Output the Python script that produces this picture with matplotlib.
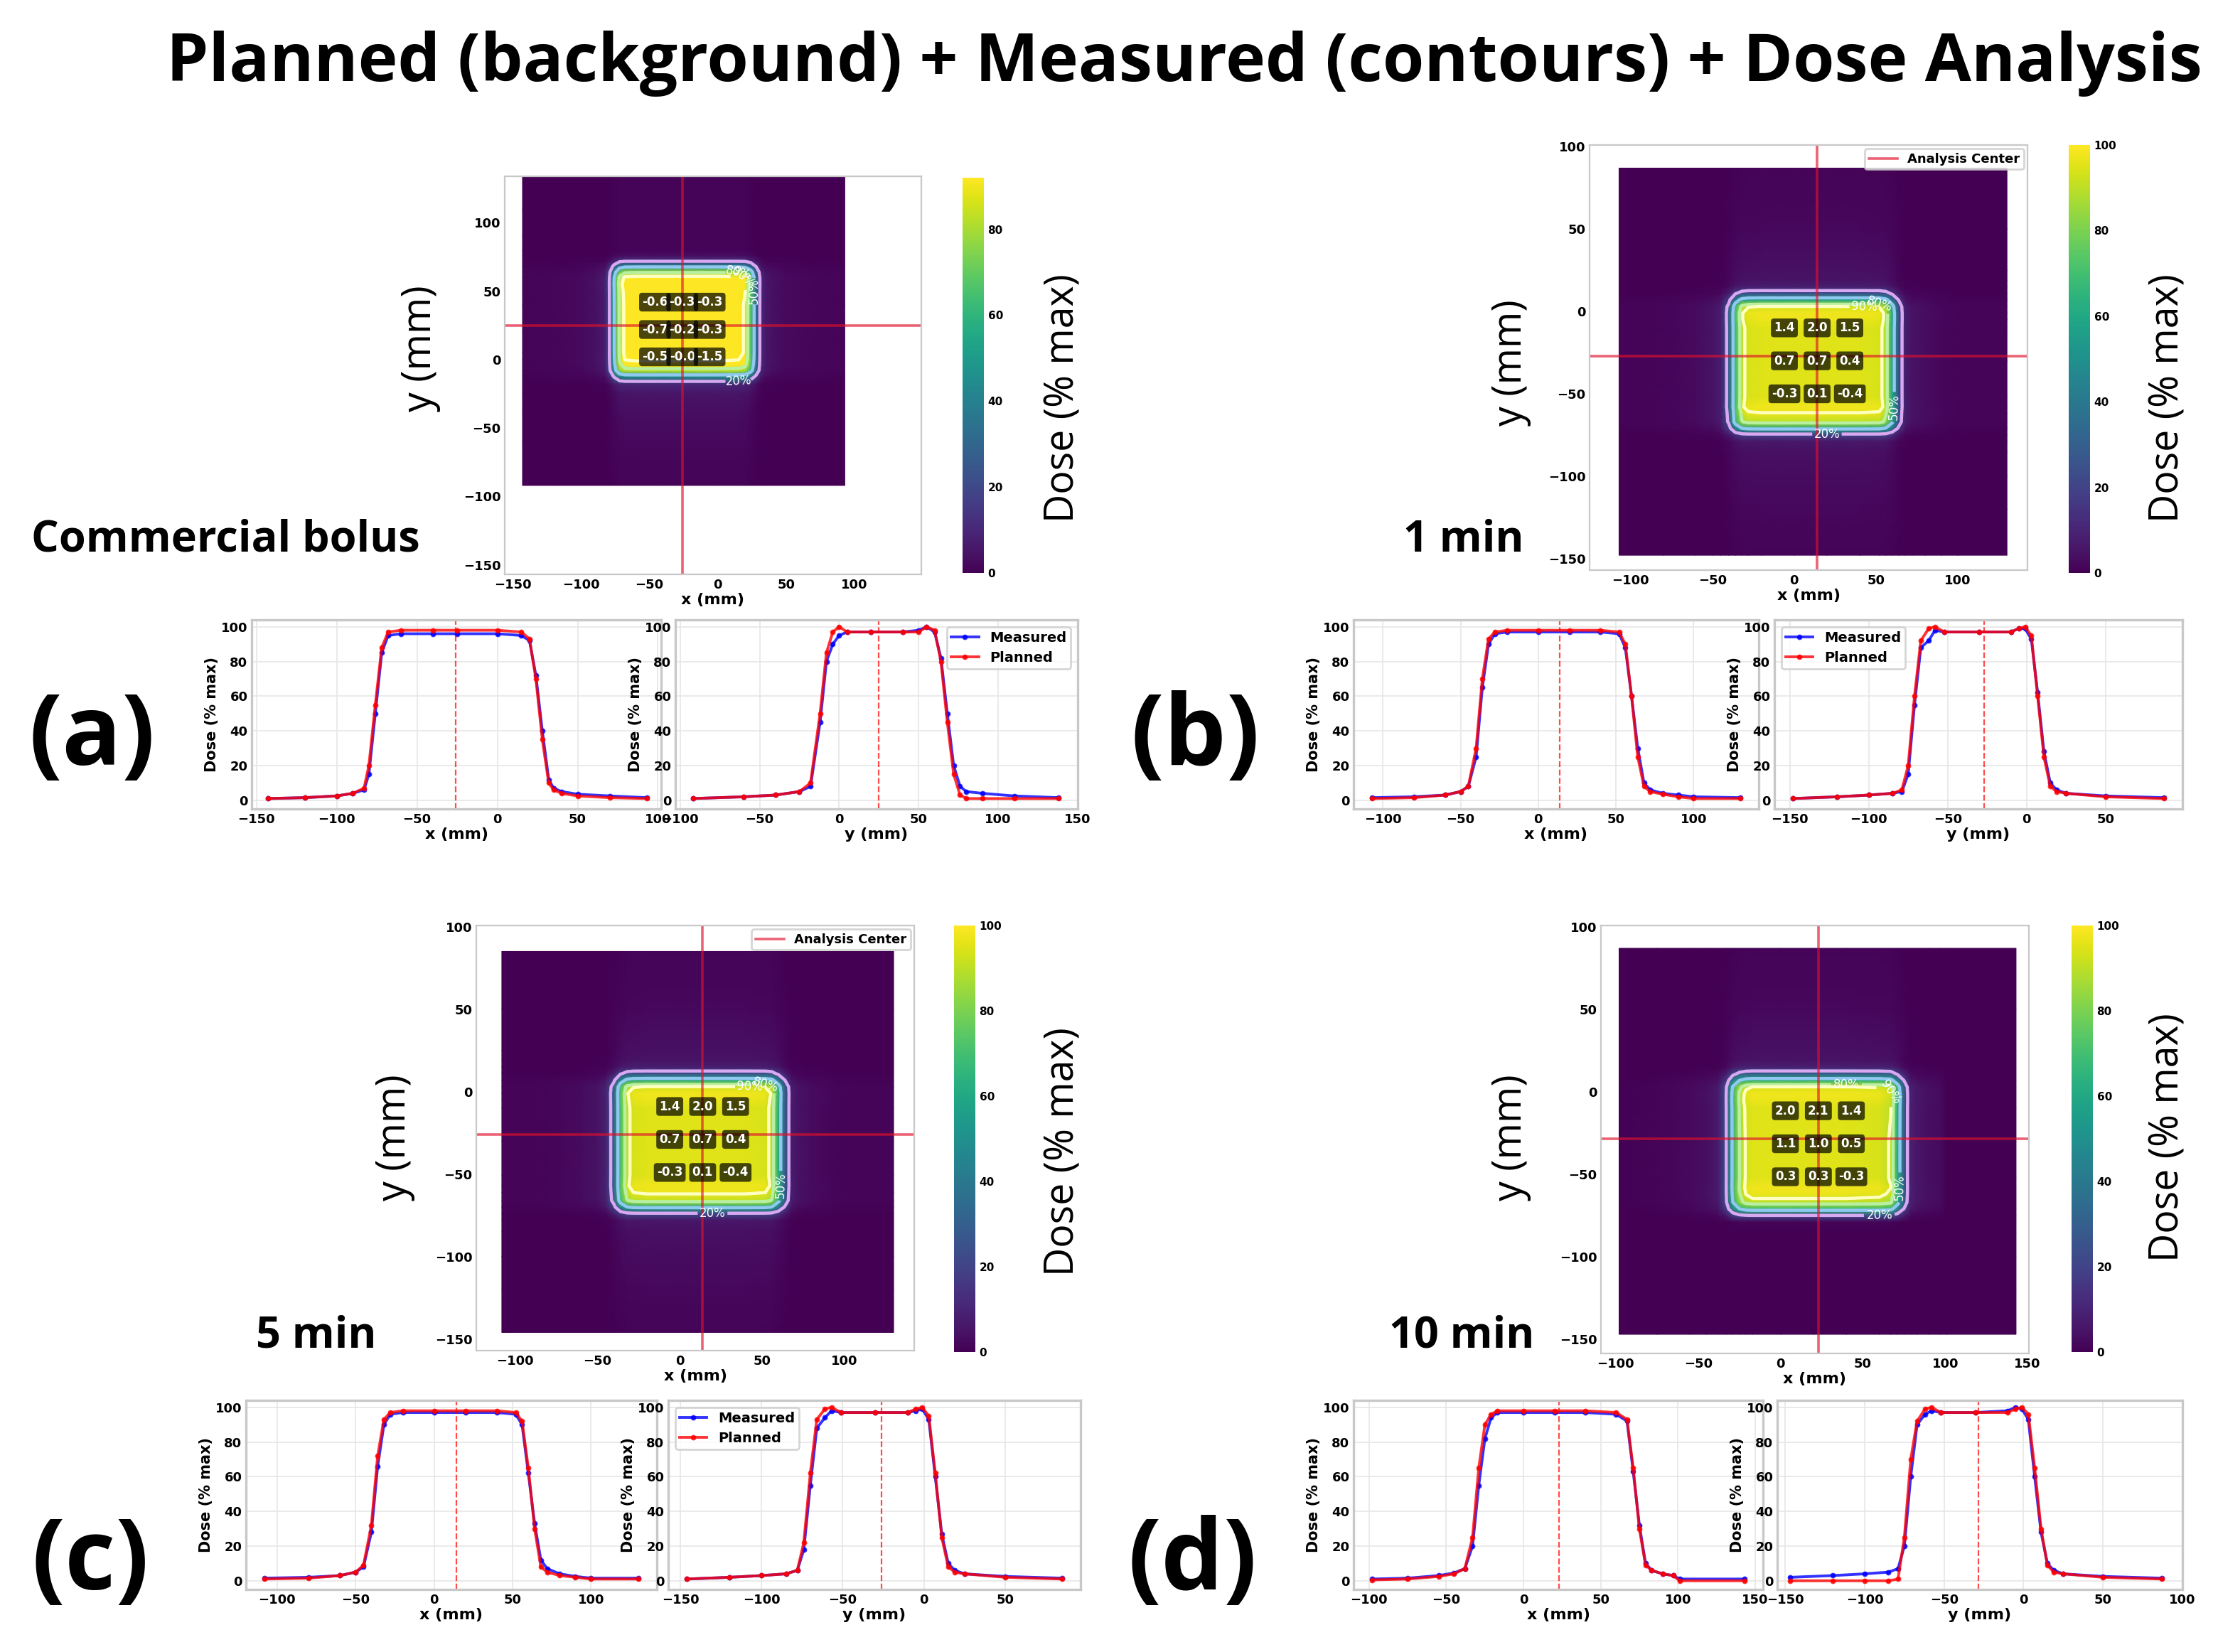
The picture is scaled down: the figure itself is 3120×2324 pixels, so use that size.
import numpy as np
import matplotlib.pyplot as plt

# ---- profile data (position in mm, dose in % max) ----
a_x_pos = [-143, -120, -100, -90, -83, -80, -76, -72, -68, -60, -40, -25, 0, 15, 20, 24, 28, 32, 35, 40, 50, 70, 93]
a_x_plan = [1, 1.5, 2.5, 4, 7, 20, 55, 88, 97, 98, 98, 98, 98, 97, 93, 70, 35, 10, 6, 4, 2.5, 1.5, 1]
a_x_meas = [1, 1.5, 2.5, 4, 6, 15, 50, 85, 95, 96, 96, 96, 96, 95, 92, 72, 40, 12, 7, 5, 3.5, 2.5, 1.5]
a_y_pos = [-92, -60, -40, -25, -18, -12, -8, -4, 0, 5, 20, 40, 50, 55, 60, 64, 68, 72, 76, 80, 90, 110, 138]
a_y_plan = [1, 2, 3, 5, 10, 50, 85, 97, 100, 97, 97, 97, 97, 100, 98, 80, 45, 15, 3, 1, 1, 1, 1]
a_y_meas = [1, 2, 3, 5, 8, 45, 80, 90, 95, 97, 97, 97, 98, 100, 97, 82, 50, 20, 8, 5, 4, 2.5, 1.5]

b_x_pos = [-107, -80, -60, -50, -45, -40, -36, -32, -28, -20, 0, 20, 40, 52, 56, 60, 64, 68, 72, 80, 90, 100, 130]
b_x_plan = [1, 1.5, 3, 5, 8, 30, 70, 93, 97, 98, 98, 98, 98, 97, 90, 60, 25, 8, 5, 3.5, 2, 1, 1]
b_x_meas = [1.5, 2, 3, 5, 8, 25, 65, 90, 96, 97, 97, 97, 97, 96, 88, 60, 30, 10, 6, 4, 3, 2, 1.5]
b_y_pos = [-148, -120, -100, -85, -79, -75, -71, -67, -62, -58, -52, -30, -10, -5, -1, 3, 7, 11, 15, 19, 25, 50, 87]
b_y_plan = [1, 2, 3, 4, 6, 20, 60, 92, 99, 100, 97, 97, 97, 99, 100, 95, 60, 25, 8, 5, 4, 2, 1]
b_y_meas = [1, 2, 3, 4, 5, 15, 55, 88, 92, 98, 97, 97, 97, 99, 99, 93, 62, 28, 10, 6, 4, 2.5, 1.5]

c_x_pos = [-108, -80, -60, -50, -45, -40, -36, -32, -28, -20, 0, 20, 40, 52, 56, 60, 64, 68, 72, 80, 90, 100, 130]
c_x_plan = [1, 1.5, 3, 5, 9, 32, 72, 93, 97, 98, 98, 98, 98, 97, 92, 65, 30, 8, 5, 3, 2, 1, 1]
c_x_meas = [1.5, 2, 3, 5, 8, 28, 66, 90, 96, 97, 97, 97, 97, 96, 90, 62, 33, 12, 7, 4, 2.5, 1.5, 1.5]
c_y_pos = [-146, -120, -100, -85, -78, -74, -70, -66, -61, -57, -51, -30, -10, -5, -1, 3, 7, 11, 15, 19, 25, 50, 85]
c_y_plan = [1, 2, 3, 4, 6, 22, 62, 93, 99, 100, 97, 97, 97, 99, 100, 95, 62, 25, 8, 5, 4, 2, 1]
c_y_meas = [1, 2, 3, 4, 6, 18, 55, 88, 94, 98, 97, 97, 97, 98, 99, 93, 60, 27, 10, 6, 4, 2.5, 1.5]

d_x_pos = [-98, -75, -55, -45, -38, -33, -29, -25, -21, -17, 0, 20, 40, 60, 67, 71, 75, 79, 83, 90, 97, 101, 143]
d_x_plan = [0.5, 1, 2.5, 4, 7, 25, 65, 90, 96, 98, 98, 98, 98, 97, 93, 65, 30, 9, 6, 4, 3, 0, 0]
d_x_meas = [1, 1.5, 3, 4.5, 7, 20, 55, 82, 94, 97, 97, 97, 97, 96, 92, 63, 32, 10, 6, 4, 3, 1, 1]
d_y_pos = [-147, -120, -100, -85, -79, -75, -71, -67, -62, -58, -52, -30, -10, -5, -1, 3, 7, 11, 15, 19, 25, 50, 87]
d_y_plan = [0, 0, 0, 0, 1, 25, 70, 92, 99, 100, 97, 97, 97, 99, 100, 96, 65, 30, 9, 5, 4, 2, 1]
d_y_meas = [2, 3, 4, 5, 7, 20, 60, 90, 96, 98, 97, 97, 98, 100, 99, 93, 60, 28, 10, 6, 4, 2.5, 1.5]

# analysis centre (x, y) in mm
a_center = (-26, 25)
b_center = (14, -27)
c_center = (14, -26)
d_center = (23, -28.5)

# 3x3 dose-difference grid, rows top to bottom
a_diff = [[-0.6, -0.3, -0.3], [-0.7, -0.2, -0.3], [-0.5, -0.0, -1.5]]
b_diff = [[1.4, 2.0, 1.5], [0.7, 0.7, 0.4], [-0.3, 0.1, -0.4]]
c_diff = [[1.4, 2.0, 1.5], [0.7, 0.7, 0.4], [-0.3, 0.1, -0.4]]
d_diff = [[2.0, 2.1, 1.4], [1.1, 1.0, 0.5], [0.3, 0.3, -0.3]]

side_labels = ["Commercial bolus", "1 min", "5 min", "10 min"]
panel_letters = ["(a)", "(b)", "(c)", "(d)"]
contour_levels = [20, 50, 80, 90]

# ---- layout (reference pixel units at half size) ----
W, H = 1560, 1162


def box(x0, y0, x1, y1):
    return [x0 / W, 1 - y1 / H, (x1 - x0) / W, (y1 - y0) / H]


panels = [
    dict(x=(a_x_pos, a_x_plan, a_x_meas), y=(a_y_pos, a_y_plan, a_y_meas), c=a_center, diff=a_diff,
         map_box=(355, 124, 648, 404), cb_box=(677, 125, 692, 403), xlim=(-156, 149), ylim=(-157, 134),
         xt=[-150, -100, -50, 0, 50, 100], vmax=92, cbt=[0, 20, 40, 60, 80], center_leg=False,
         cb_lab=(748, 280), ylab=(296, 245), side=(22, 380), letter=(20, 520),
         prof=[(177, 436, 465, 569), (475, 436, 758, 569)], plim=[(-153, 102), (-103, 150)], leg='upper right'),
    dict(x=(b_x_pos, b_x_plan, b_x_meas), y=(b_y_pos, b_y_plan, b_y_meas), c=b_center, diff=b_diff,
         map_box=(1118, 102, 1426, 401), cb_box=(1455, 102, 1470, 403), xlim=(-125, 142.5), ylim=(-157, 101),
         xt=[-100, -50, 0, 50, 100], vmax=100, cbt=[0, 20, 40, 60, 80, 100], center_leg=True,
         cb_lab=(1525, 280), ylab=(1063, 255), side=(987, 380), letter=(795, 520),
         prof=[(952, 436, 1237, 569), (1248, 436, 1535, 569)], plim=[None, None], leg='upper left'),
    dict(x=(c_x_pos, c_x_plan, c_x_meas), y=(c_y_pos, c_y_plan, c_y_meas), c=c_center, diff=c_diff,
         map_box=(335, 651, 643, 950), cb_box=(671, 651, 686, 951), xlim=(-123.5, 142.5), ylim=(-157, 100.7),
         xt=[-100, -50, 0, 50, 100], vmax=100, cbt=[0, 20, 40, 60, 80, 100], center_leg=True,
         cb_lab=(748, 810), ylab=(278, 800), side=(180, 940), letter=(22, 1100),
         prof=[(173, 985, 462, 1118), (470, 985, 760, 1118)], plim=[None, None], leg='upper left'),
    dict(x=(d_x_pos, d_x_plan, d_x_meas), y=(d_y_pos, d_y_plan, d_y_meas), c=d_center, diff=d_diff,
         map_box=(1126, 651, 1427, 952), cb_box=(1457, 651, 1472, 951), xlim=(-109, 150.8), ylim=(-158.6, 100.8),
         xt=[-100, -50, 0, 50, 100, 150], vmax=100, cbt=[0, 20, 40, 60, 80, 100], center_leg=False,
         cb_lab=(1525, 800), ylab=(1063, 800), side=(977, 940), letter=(793, 1100),
         prof=[(952, 985, 1240, 1118), (1250, 985, 1535, 1118)], plim=[None, (-155, 100)], leg=None),
]

big_font = ['Open Sans', 'DejaVu Sans']
fig = plt.figure(figsize=(15.6, 11.62), dpi=200)
fig.text(833 / W, 1 - 45 / H, "Planned (background) + Measured (contours) + Dose Analysis",
         ha='center', va='center', fontsize=34, fontweight='bold', family=big_font)

grey = '#c8c8c8'
for i, p in enumerate(panels):
    xp, xplan, xmeas = [np.array(v, float) for v in p['x']]
    yp, yplan, ymeas = [np.array(v, float) for v in p['y']]
    cx, cy = p['c']

    # ---- dose map ----
    ax = fig.add_axes(box(*p['map_box']))
    planned_map = np.outer(yplan, xplan) / 100
    measured_map = np.outer(ymeas, xmeas) / 100
    im = ax.pcolormesh(xp, yp, planned_map, shading='gouraud', cmap='viridis', vmin=0, vmax=p['vmax'])
    cs = ax.contour(xp, yp, measured_map, levels=contour_levels,
                    colors=['#d8a8f0', '#8fc8f0', '#b8f0a0', '#ffffc0'], linewidths=1.6)
    ax.clabel(cs, fmt=lambda v: f'{v:.0f}%', fontsize=6, colors='white', inline=True)
    ax.axvline(cx, color='#e0102a', alpha=0.65, lw=1.3, label='Analysis Center')
    ax.axhline(cy, color='#e0102a', alpha=0.65, lw=1.3)
    for r, row in enumerate(p['diff']):
        for k, v in enumerate(row):
            ax.text(cx + (k - 1) * 20, cy + 17 - r * 20, f'{v:.1f}', ha='center', va='center',
                    fontsize=6, fontweight='bold', color='white',
                    bbox=dict(boxstyle='round,pad=0.25', fc='black', alpha=0.7, ec='none'))
    ax.set_xlim(*p['xlim'])
    ax.set_ylim(*p['ylim'])
    ax.set_xticks(p['xt'])
    ax.set_yticks([-150, -100, -50, 0, 50, 100])
    ax.tick_params(labelsize=6.5, length=0, pad=2)
    for lab in ax.get_xticklabels() + ax.get_yticklabels():
        lab.set_fontweight('bold')
    ax.set_xlabel('x (mm)', fontsize=8, fontweight='bold', labelpad=1)
    for s in ax.spines.values():
        s.set_color(grey)
    if p['center_leg']:
        ax.legend(loc='upper right', prop=dict(size=6.5, weight='bold'), framealpha=0.8,
                  borderpad=0.3, handlelength=2.2, borderaxespad=0.3)

    cax = fig.add_axes(box(*p['cb_box']))
    cb = fig.colorbar(im, cax=cax, ticks=p['cbt'])
    cb.outline.set_visible(False)
    cax.tick_params(labelsize=5.5, length=0, pad=2)
    for lab in cax.get_yticklabels():
        lab.set_fontweight('bold')

    fig.text(p['cb_lab'][0] / W, 1 - p['cb_lab'][1] / H, 'Dose (% max)', rotation=90,
             ha='center', va='center', fontsize=20, family=big_font)
    fig.text(p['ylab'][0] / W, 1 - p['ylab'][1] / H, 'y (mm)', rotation=90,
             ha='center', va='center', fontsize=20, family=big_font)
    fig.text(p['side'][0] / W, 1 - p['side'][1] / H, side_labels[i], ha='left', va='center',
             fontsize=22, fontweight='bold', family=big_font)
    fig.text(p['letter'][0] / W, 1 - p['letter'][1] / H, panel_letters[i], ha='left', va='center',
             fontsize=50, fontweight='bold', family=big_font)

    # ---- profiles ----
    for j, (pos, plan, meas, lab, c0) in enumerate([(xp, xplan, xmeas, 'x (mm)', cx),
                                                     (yp, yplan, ymeas, 'y (mm)', cy)]):
        pa = fig.add_axes(box(*p['prof'][j]))
        pa.plot(pos, meas, color='blue', lw=1.4, marker='o', ms=1.8, alpha=0.8, label='Measured')
        pa.plot(pos, plan, color='red', lw=1.4, marker='o', ms=1.8, alpha=0.8, label='Planned')
        pa.axvline(c0, color='red', ls='--', lw=0.8, alpha=0.7)
        if p['plim'][j] is not None:
            pa.set_xlim(*p['plim'][j])
        pa.set_ylim(-5, 104)
        pa.set_yticks([0, 20, 40, 60, 80, 100])
        pa.grid(True, color='#e6e6e6', lw=0.6)
        pa.tick_params(labelsize=6.5, length=0, pad=2)
        for t in pa.get_xticklabels() + pa.get_yticklabels():
            t.set_fontweight('bold')
        pa.set_xlabel(lab, fontsize=8, fontweight='bold', labelpad=1)
        pa.set_ylabel('Dose (% max)', fontsize=7.5, fontweight='bold', labelpad=1)
        for s in pa.spines.values():
            s.set_color(grey)
            s.set_linewidth(1.2)
        if j == 1 and p['leg']:
            pa.legend(loc=p['leg'], prop=dict(size=7, weight='bold'), framealpha=0.8,
                      borderpad=0.3, handlelength=2.0)

fig.savefig('out.png', dpi=200)
